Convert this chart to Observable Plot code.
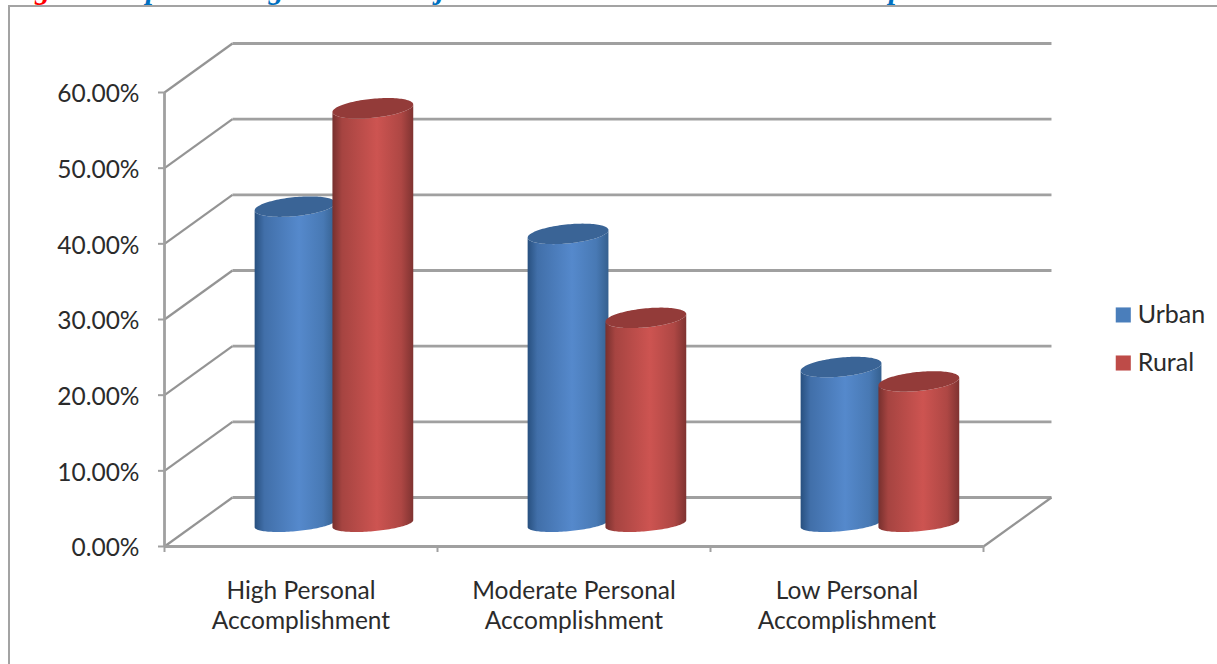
<!DOCTYPE html>
<html>
<head>
<meta charset="utf-8">
<script src="https://cdn.jsdelivr.net/npm/d3@7"></script>
<script src="https://cdn.jsdelivr.net/npm/@observablehq/plot@0.6"></script>
<style>
  html, body { margin: 0; padding: 0; background: #fff; overflow: hidden; }
  #page { position: relative; width: 1217px; height: 664px; overflow: hidden; background: #fff; }
  #heading { position: absolute; left: 0; top: 0; width: 1217px; height: 5px; overflow: hidden; }
  #heading div { position: absolute; top: -28px; white-space: nowrap; font: italic bold 30px "Liberation Serif", serif; letter-spacing: 2px; color: #0070c0; }
  #heading .lead { color: #f00; }
  #heading i { font-style: normal; }
  #heading .tight { letter-spacing: -0.5px; }
  #frame { position: absolute; left: 8px; top: 5px; width: 1300px; height: 700px; border: 2.5px solid #a3a3a3; box-sizing: border-box; }
  #chart { position: absolute; left: 0; top: 0; }
  #chart svg { background: transparent; }
</style>
</head>
<body>
<div id="page">
  <div id="heading">
    <div class="lead" style="left:3px">Figure 3:</div>
    <div style="left:146px">percentage <span class="tight"><i>of</i> the</span></div>
    <div style="left:387px">subjects <span class="tight">on the level <i>of</i> Personal</span></div>
    <div style="left:794px">Accomplishment</div>
  </div>
  <div id="frame"></div>
  <div id="chart"></div>
</div>
<script>
const categories = ["High Personal\nAccomplishment", "Moderate Personal\nAccomplishment", "Low Personal\nAccomplishment"];
const seriesNames = ["Urban", "Rural"];
const urban = [41.9, 38.3, 20.7];
const rural = [54.9, 27.2, 18.8];
const yTicks = [0, 10, 20, 30, 40, 50, 60];
const xTicks = [0, 1, 2, 3];

// Oblique projection: the back wall sits up and to the right of the front plane.
const depthX = 0.249, depthY = 6.475;
const wall = (v, d) => v + d * depthY;
const gridGrey = "#a0a0a0";

const floorLevel = 2.95;
const halfWidth = 0.148;
const barOffset = { Urban: -0.1445, Rural: 0.1405 };
const capRadius = 1.26, baseRadius = 1.0;
const capShear = 0.5, baseShear = 0.46;

const palette = {
  Urban: { edgeL: "#28507f", mid: "#5589cc", edgeR: "#35608f", cap: "#3a6496", key: "#4a7ebb" },
  Rural: { edgeL: "#77302e", mid: "#cd5451", edgeR: "#7f3331", cap: "#933b39", key: "#be4b48" }
};

// Half-ellipse samples for the rims of a cylinder.
const sweep = d3.range(0, 61).map(i => i / 60);
function rim(cx, level, radius, shear, upper) {
  return sweep.map(s => {
    const t = Math.PI * s;
    const c = -Math.cos(t);
    return { x: cx + halfWidth * c, y: level + shear * c + (upper ? 1 : -1) * radius * Math.sin(t) };
  });
}

function cylinder(name, value, i) {
  const cx = i + 0.5 + barOffset[name] + depthX / 2;
  const top = floorLevel + value;
  const capLow = rim(cx, top, capRadius, capShear, false);
  const capHigh = rim(cx, top, capRadius, capShear, true);
  const baseLow = rim(cx, floorLevel, baseRadius, baseShear, false);
  const body = sweep.map((_, k) => ({ x: capLow[k].x, y1: baseLow[k].y, y2: capLow[k].y }));
  const cap = sweep.map((_, k) => ({ x: capLow[k].x, y1: capLow[k].y, y2: capHigh[k].y }));
  return [
    Plot.areaY(body, { x: "x", y1: "y1", y2: "y2", fill: `url(#shade-${name})` }),
    Plot.areaY(cap, { x: "x", y1: "y1", y2: "y2", fill: palette[name].cap })
  ];
}

// Horizontal shading used on the cylinder bodies.
function gradients() {
  const ns = "http://www.w3.org/2000/svg";
  const defs = document.createElementNS(ns, "defs");
  for (const name of seriesNames) {
    const g = document.createElementNS(ns, "linearGradient");
    g.setAttribute("id", `shade-${name}`);
    const p = palette[name];
    for (const [o, c] of [[0, p.edgeL], [0.12, d3.interpolateRgb(p.edgeL, p.mid)(0.55)], [0.55, p.mid], [0.85, d3.interpolateRgb(p.edgeR, p.mid)(0.6)], [1, p.edgeR]]) {
      const s = document.createElementNS(ns, "stop");
      s.setAttribute("offset", o);
      s.setAttribute("stop-color", c);
      g.appendChild(s);
    }
    defs.appendChild(g);
  }
  return defs;
}

const labelFont = "Lato, sans-serif";
const legendX = 3.512, legendTextX = 3.565;
const legendY = { Urban: 30.6, Rural: 24.25 };

const chart = Plot.plot({
  width: 1217,
  height: 664,
  marginLeft: 164,
  marginRight: 234,
  marginTop: 92,
  marginBottom: 118,
  style: { background: "transparent", overflow: "visible" },
  x: { type: "linear", domain: [0, 3], axis: null },
  y: { type: "linear", domain: [0, 60], axis: null },
  marks: [
    gradients,
    // back wall and side wall
    Plot.link(yTicks, { x1: depthX, x2: 3 + depthX, y1: d => wall(d, 1), y2: d => wall(d, 1), stroke: gridGrey, strokeWidth: 2.8 }),
    Plot.link(yTicks, { x1: 0, x2: depthX, y1: d => d, y2: d => wall(d, 1), stroke: "#949494", strokeWidth: 2.2 }),
    // floor edges
    Plot.link([0], { x1: 3, x2: 3 + depthX, y1: 0, y2: wall(0, 1), stroke: "#949494", strokeWidth: 2.2 }),
    Plot.ruleY([0], { stroke: gridGrey, strokeWidth: 2.8 }),
    Plot.ruleX([0], { stroke: gridGrey, strokeWidth: 2.8 }),
    Plot.axisY({ ticks: yTicks, anchor: "left", tickSize: 6, tickFormat: () => "", label: null, stroke: gridGrey, strokeWidth: 2 }),
    Plot.text(yTicks, {
      x: 0, y: d => d, text: d => d.toFixed(2) + "%", textAnchor: "end", dx: -25, dy: 2,
      fontSize: 24.5, fontFamily: labelFont, fill: "#2b2b2b"
    }),
    Plot.axisX({ ticks: xTicks, anchor: "bottom", tickSize: 6, tickFormat: () => "", label: null, stroke: gridGrey, strokeWidth: 2 }),
    // category labels below the floor
    Plot.text(categories, {
      x: (d, i) => i + 0.5, y: 0, text: d => d, dy: 31, lineAnchor: "top", lineHeight: 1.24,
      fontSize: 24.5, fontFamily: labelFont, fill: "#2b2b2b"
    }),
    ...urban.flatMap((v, i) => cylinder("Urban", v, i)),
    ...rural.flatMap((v, i) => cylinder("Rural", v, i)),
    // series key
    Plot.dot(seriesNames, { x: legendX, y: d => legendY[d], symbol: "square", r: 8.5, fill: d => palette[d].key }),
    Plot.text(seriesNames, { x: legendTextX, y: d => legendY[d], text: d => d, textAnchor: "start", fontSize: 25, fontFamily: labelFont, fill: "#2b2b2b" })
  ]
});
document.getElementById("chart").appendChild(chart);
</script>
</body>
</html>
